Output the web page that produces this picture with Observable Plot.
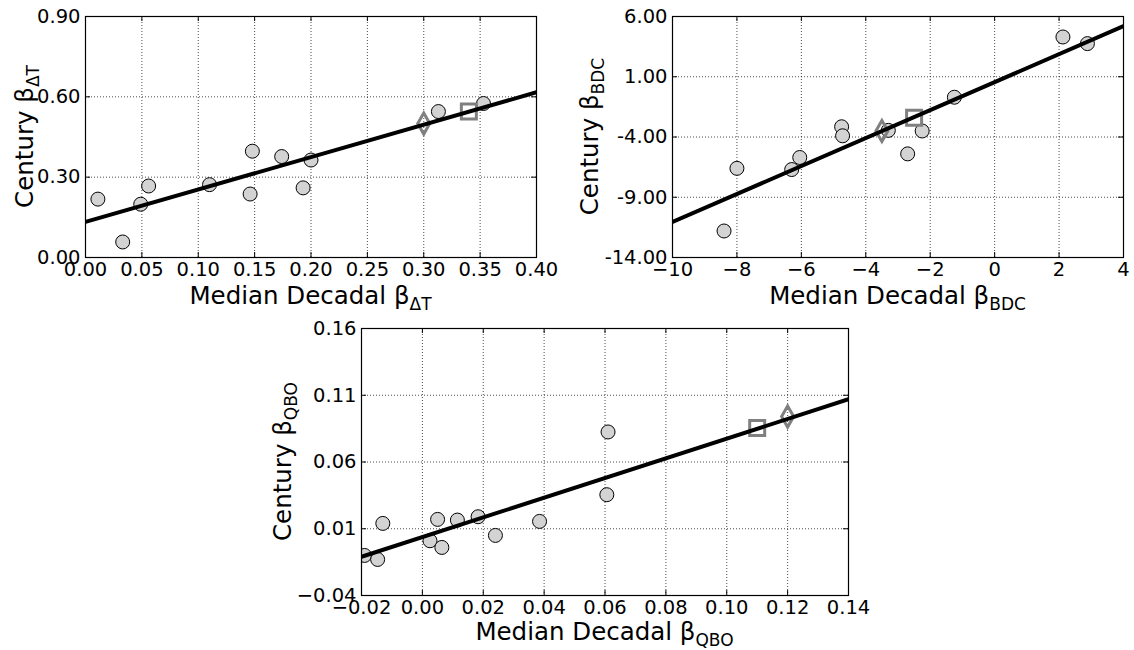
<!DOCTYPE html>
<html><head><meta charset="utf-8">
<script src="https://cdn.jsdelivr.net/npm/d3@7"></script>
<script src="https://cdn.jsdelivr.net/npm/@observablehq/plot@0.6"></script>
<style>
body{margin:0;background:#fff;}
#root{position:relative;width:1134px;height:650px;overflow:hidden;background:#fff;}
#root svg{position:absolute;overflow:visible;}
</style></head><body><div id="root"></div>
<script>
// ---------- Panel 1: ΔT ----------
const dtDecadal = [0.011, 0.033, 0.049, 0.056, 0.110, 0.146, 0.148, 0.174, 0.193, 0.200, 0.313, 0.353];
const dtCentury = [0.218, 0.058, 0.199, 0.267, 0.272, 0.237, 0.397, 0.377, 0.260, 0.364, 0.545, 0.575];
const dtDiamond = [0.30, 0.500];
const dtSquare  = [0.34, 0.545];
const dtFitX = [0.0, 0.40];
const dtFitY = [0.133, 0.617];
const dtXTicks = [0.00, 0.05, 0.10, 0.15, 0.20, 0.25, 0.30, 0.35, 0.40];
const dtYTicks = [0.00, 0.30, 0.60, 0.90];

// ---------- Panel 2: BDC ----------
const bdcDecadal = [-8.4, -8.0, -6.3, -6.05, -4.75, -4.72, -3.3, -2.7, -2.25, -1.25, 2.12, 2.88];
const bdcCentury = [-11.8, -6.6, -6.7, -5.7, -3.15, -3.9, -3.45, -5.4, -3.5, -0.7, 4.3, 3.75];
const bdcDiamond = [-3.5, -3.5];
const bdcSquare  = [-2.5, -2.4];
const bdcFitX = [-10, 4];
const bdcFitY = [-11.05, 5.2];
const bdcXTicks = [-10, -8, -6, -4, -2, 0, 2, 4];
const bdcYTicks = [-14, -9, -4, 1, 6];

// ---------- Panel 3: QBO ----------
const qboDecadal = [-0.019, -0.0147, -0.013, 0.0025, 0.005, 0.0064, 0.0115, 0.0183, 0.024, 0.0385, 0.0606, 0.061];
const qboCentury = [-0.010, -0.013, 0.014, 0.001, 0.017, -0.004, 0.0165, 0.019, 0.005, 0.0155, 0.0355, 0.0825];
const qboDiamond = [0.12, 0.094];
const qboSquare  = [0.11, 0.0855];
const qboFitX = [-0.02, 0.14];
const qboFitY = [-0.011, 0.107];
const qboXTicks = [-0.02, 0.00, 0.02, 0.04, 0.06, 0.08, 0.10, 0.12, 0.14];
const qboYTicks = [-0.04, 0.01, 0.06, 0.11, 0.16];

const FONT = "DejaVu Sans";
const thinDiamond = {draw(ctx) { ctx.moveTo(0, -10.5); ctx.lineTo(6, 0); ctx.lineTo(0, 10.5); ctx.lineTo(-6, 0); ctx.closePath(); }};
const openSquare = {draw(ctx) { ctx.moveTo(-7.5, -7.5); ctx.lineTo(7.5, -7.5); ctx.lineTo(7.5, 7.5); ctx.lineTo(-7.5, 7.5); ctx.closePath(); }};

function addLabel(svg, x, y, main, sub, rotate) {
  const t = d3.select(svg).append("text")
    .attr("text-anchor", "middle")
    .attr("font-family", FONT)
    .attr("font-size", 24.5)
    .attr("fill", "#000")
    .attr("transform", rotate ? `translate(${x},${y}) rotate(-90)` : `translate(${x},${y})`);
  t.append("tspan").text(main);
  t.append("tspan").attr("font-size", 17).attr("dy", 5.5).text(sub);
}

function panel(c) {
  const pw = c.width - c.mL - c.mR, ph = c.height - c.mT - c.mB;
  const pts = c.dec.map((d, i) => ({x: d, y: c.cen[i]}));
  const fit = c.fitX.map((d, i) => ({x: d, y: c.fitY[i]}));
  const gridStyle = {stroke: "#000", strokeOpacity: 0.7, strokeWidth: 1, strokeDasharray: "1,2"};
  const svg = Plot.plot({
    width: c.width, height: c.height,
    marginLeft: c.mL, marginRight: c.mR, marginTop: c.mT, marginBottom: c.mB,
    style: {fontFamily: FONT, fontSize: "19.5px", background: "transparent", overflow: "visible", color: "#000"},
    x: {domain: c.xDomain, axis: null},
    y: {domain: c.yDomain, axis: null},
    marks: [
      Plot.gridX(c.xTicks, gridStyle),
      Plot.gridY(c.yTicks, gridStyle),
      Plot.tickX(c.xTicks, {x: d => d, insetTop: ph - 5, stroke: "#000"}),
      Plot.tickX(c.xTicks, {x: d => d, insetBottom: ph - 5, stroke: "#000"}),
      Plot.tickY(c.yTicks, {y: d => d, insetRight: pw - 5, stroke: "#000"}),
      Plot.tickY(c.yTicks, {y: d => d, insetLeft: pw - 5, stroke: "#000"}),
      Plot.dot(pts, {x: "x", y: "y", r: 7, fill: "#d3d3d3", stroke: "#000", strokeWidth: 1, clip: true}),
      Plot.dot([c.diamond], {x: d => d[0], y: d => d[1], symbol: thinDiamond, stroke: "#808080", strokeWidth: 3, fill: "none"}),
      Plot.dot([c.square], {x: d => d[0], y: d => d[1], symbol: openSquare, stroke: "#808080", strokeWidth: 3, fill: "none"}),
      Plot.line(fit, {x: "x", y: "y", stroke: "#000", strokeWidth: 4, clip: true}),
      Plot.frame({stroke: "#000", strokeWidth: 1.2}),
      Plot.axisX(c.xTicks, {tickSize: 0, tickPadding: 5, tickFormat: c.xFmt, label: null, fontSize: 19.5}),
      Plot.axisY(c.yTicks, {tickSize: 0, tickPadding: 5, tickFormat: c.yFmt, label: null, fontSize: 19.5})
    ]
  });
  svg.style.left = c.left + "px";
  svg.style.top = c.top + "px";
  addLabel(svg, c.mL + pw / 2, c.mT + ph + c.xLabDy, "Median Decadal β", c.sub, false);
  addLabel(svg, c.yLabX, c.mT + ph / 2, "Century β", c.sub, true);
  document.getElementById("root").appendChild(svg);
}

const f2 = d3.format(".2f");
panel({left: 0, top: 0, width: 560, height: 320, mL: 85, mR: 24, mT: 16, mB: 63,
  xDomain: [0, 0.40], yDomain: [0, 0.90], xTicks: dtXTicks, yTicks: dtYTicks,
  xFmt: f2, yFmt: f2, dec: dtDecadal, cen: dtCentury, diamond: dtDiamond, square: dtSquare,
  fitX: dtFitX, fitY: dtFitY, sub: "ΔT", xLabDy: 47, yLabX: 33});

panel({left: 567, top: 0, width: 567, height: 320, mL: 105, mR: 11, mT: 16, mB: 63,
  xDomain: [-10, 4], yDomain: [-14, 6], xTicks: bdcXTicks, yTicks: bdcYTicks,
  xFmt: d3.format("d"), yFmt: d => d.toFixed(2), dec: bdcDecadal, cen: bdcCentury,
  diamond: bdcDiamond, square: bdcSquare, fitX: bdcFitX, fitY: bdcFitY, sub: "BDC", xLabDy: 47, yLabX: 31});

panel({left: 240, top: 310, width: 640, height: 340, mL: 121, mR: 32, mT: 18, mB: 55,
  xDomain: [-0.02, 0.14], yDomain: [-0.04, 0.16], xTicks: qboXTicks, yTicks: qboYTicks,
  xFmt: f2, yFmt: f2, dec: qboDecadal, cen: qboCentury, diamond: qboDiamond, square: qboSquare,
  fitX: qboFitX, fitY: qboFitY, sub: "QBO", xLabDy: 45, yLabX: 51});
</script>
</body></html>
